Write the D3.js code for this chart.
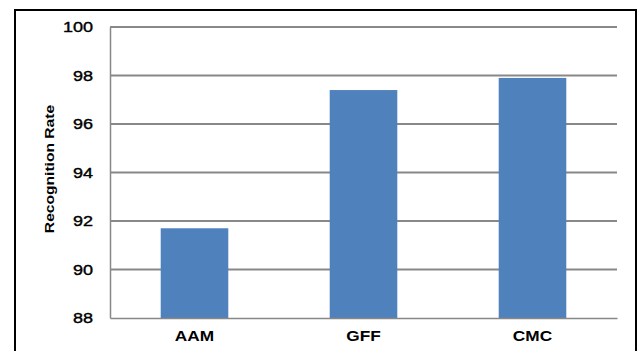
<!DOCTYPE html>
<html><head><meta charset="utf-8">
<script src="https://cdn.jsdelivr.net/npm/d3@7"></script>
<style>body{margin:0;background:#fff;} svg{display:block;}</style>
</head><body>
<svg id="c" width="640" height="351"></svg>
<script>
const categories = ["AAM", "GFF", "CMC"];
const values = [91.7, 97.4, 97.9];
const yTicks = [88, 90, 92, 94, 96, 98, 100];
const yTitle = "Recognition Rate";

const svg = d3.select("#c");
const font = "Liberation Sans, Arial, sans-serif";
function stretch(sel, f) {
  sel.each(function () {
    const l = this.getComputedTextLength();
    d3.select(this).attr("textLength", l * f).attr("lengthAdjust", "spacingAndGlyphs");
  });
}
// outer frame
svg.append("path").attr("d", "M15,352 V10 H636 V352").attr("fill", "none").attr("stroke", "#000").attr("stroke-width", 2);

const x = d3.scaleBand().domain(categories).range([110, 617]).paddingInner(0.6).paddingOuter(0.3);
const y = d3.scaleLinear().domain([88, 100]).range([318, 27]);

// gridlines
svg.append("g").selectAll("line").data(yTicks.slice(1)).join("line")
  .attr("x1", 110).attr("x2", 617).attr("y1", d => y(d)).attr("y2", d => y(d))
  .attr("stroke", "#888").attr("stroke-width", 2);

// bars
svg.append("g").selectAll("rect").data(values).join("rect")
  .attr("x", (d, i) => x(categories[i])).attr("width", x.bandwidth())
  .attr("y", d => y(d)).attr("height", d => y(88) - y(d))
  .attr("fill", "#4F81BD");

// axes
const ya = svg.append("g").attr("transform", "translate(110,0)")
  .call(d3.axisLeft(y).tickValues(yTicks).tickSize(0).tickPadding(17));
ya.select(".domain").attr("stroke", "#888").attr("stroke-width", 1.5);
ya.selectAll("text").attr("font-family", font).attr("font-size", 15).attr("fill", "#000")
  .attr("stroke", "#000").attr("stroke-width", 0.4).call(stretch, 1.2);

const xa = svg.append("g").attr("transform", "translate(0,318)")
  .call(d3.axisBottom(x).tickSize(0).tickPadding(12));
xa.select(".domain").attr("stroke", "#888").attr("stroke-width", 1.5);
xa.selectAll("text").attr("font-family", font).attr("font-size", 15).attr("font-weight", "bold").attr("fill", "#000")
  .call(stretch, 1.15);

svg.append("text").attr("transform", "translate(54,169) rotate(-90)")
  .attr("text-anchor", "middle").attr("font-family", font).attr("font-size", 13)
  .attr("font-weight", "bold").text(yTitle).call(stretch, 1.2);
</script>
</body></html>
